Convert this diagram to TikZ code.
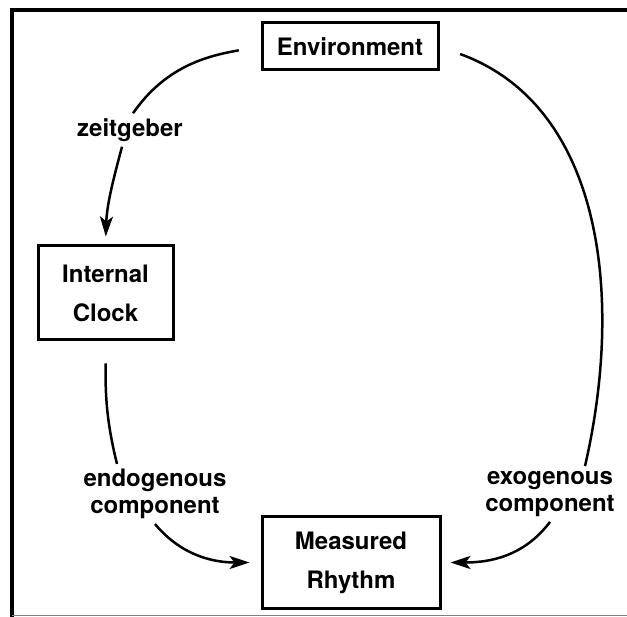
\documentclass[tikz,border=0pt]{standalone}
\usepackage{fontspec}
\setmainfont{TeX Gyre Heros}
\usetikzlibrary{arrows.meta}

\begin{document}
\begin{tikzpicture}[x = 1pt, y = 1pt,
	box/.style = {draw, line width = 3pt, align = center, inner sep = 0pt, font = \fontsize{24}{39}\selectfont\bfseries},
	lbl/.style = {align = center, inner sep = 5pt, font = \fontsize{24}{27}\selectfont\bfseries},
	link/.style = {line width = 2.5pt},
	arr/.style = {-{Stealth[length = 20pt, width = 13pt, inset = 5pt]}}
]

\useasboundingbox (0, 0) rectangle (627, -617);

\draw[line width = 3.5pt] (627, -10) -- (12, -10) -- (12, -617);
\draw[gray, line width = 1.5pt] (12, -615.5) -- (627, -615.5);

\node[box, minimum width = 176pt, minimum height = 47pt] (env) at (350, -46.5) {Environment};
\node[box, minimum width = 135pt, minimum height = 94pt] (clock) at (105.5, -293) {Internal\\Clock};
\node[box, minimum width = 178pt, minimum height = 91pt] (rhythm) at (351, -562.5) {Measured\\Rhythm};

\node[lbl] (zeit) at (130, -130) {zeitgeber};
\node[lbl] (endo) at (155, -494) {endogenous\\component};
\node[lbl] (exo) at (550, -494) {exogenous\\component};

\draw[link, shorten < = 22pt] (env.west) to[out = 190, in = 55] ([xshift = 3pt]zeit.north);
\draw[link, arr, shorten > = 8pt] ([xshift = -8pt]zeit.south) to[out = 255, in = 88] (clock.north);

\draw[link, shorten < = 22pt] (clock.south) to[out = 270, in = 104] ([xshift = -38pt]endo.north);
\draw[link, arr, shorten > = 11pt] (endo.south) to[out = -50, in = 180] (rhythm.west);

\draw[link, shorten < = 22pt] (env.east) to[out = -20, in = 77] ([xshift = 35pt]exo.north);
\draw[link, arr, shorten > = 9pt] (exo.south) to[out = 233, in = 0] (rhythm.east);

\end{tikzpicture}
\end{document}
